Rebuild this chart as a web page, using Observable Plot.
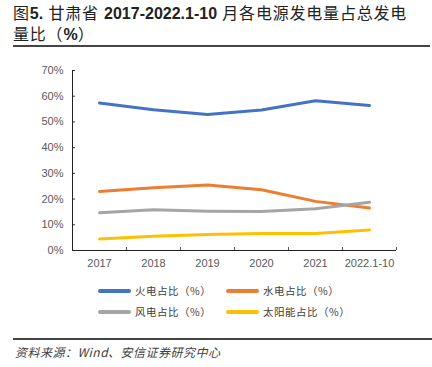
<!DOCTYPE html>
<html>
<head>
<meta charset="utf-8">
<script src="https://cdn.jsdelivr.net/npm/d3@7"></script>
<script src="https://cdn.jsdelivr.net/npm/@observablehq/plot@0.6"></script>
<style>
  html, body { margin: 0; padding: 0; background: #fff; }
  #wrap { position: relative; width: 432px; height: 367px; overflow: hidden; font-family: "Liberation Sans", "Noto Sans CJK SC", sans-serif; }
  #title { position: absolute; left: 13px; top: 3px; width: 420px; font-size: 16px; line-height: 21px; color: #222; font-weight: normal; letter-spacing: 0.8px; font-family: "Liberation Sans", "Noto Sans CJK SC", sans-serif; }
  #title b { font-weight: bold; letter-spacing: 0; }
  #rule1 { position: absolute; left: 13px; top: 45px; width: 417px; height: 2px; background: #444; }
  #chart { position: absolute; left: 0; top: 50px; }
  .leg { position: absolute; font-size: 10.5px; color: #404040; font-family: "Noto Sans CJK SC", sans-serif; letter-spacing: 0.5px; display: flex; align-items: center; }
  .sw { width: 33px; height: 4px; border-radius: 2px; margin-right: 4px; }
  #rule2 { position: absolute; left: 13px; top: 338px; width: 419px; height: 1.5px; background: #444; }
  #src { position: absolute; left: 15px; top: 343px; font-size: 12px; color: #404040; font-style: italic; font-family: "Noto Sans CJK SC", sans-serif; letter-spacing: 0.5px; }
</style>
</head>
<body>
<div id="wrap">
  <div id="title">图<b>5.</b> 甘肃省 <b>2017-2022.1-10</b> 月各电源发电量占总发电<br>量比（<b>%</b>）</div>
  <div id="rule1"></div>
  <div id="chart"></div>
  <div id="legend"></div>
  <div id="rule2"></div>
  <div id="src">资料来源：Wind、安信证券研究中心</div>
</div>
<script>
const categories = ["2017", "2018", "2019", "2020", "2021", "2022.1-10"];
const seriesNames = ["火电占比（%）", "水电占比（%）", "风电占比（%）", "太阳能占比（%）"];
const seriesColors = ["#4472C4", "#ED7D31", "#A5A5A5", "#FFC000"];
const thermal = [57.4, 54.7, 52.9, 54.6, 58.2, 56.4];
const hydro = [22.9, 24.4, 25.5, 23.6, 19.1, 16.5];
const wind = [14.7, 15.8, 15.3, 15.2, 16.2, 18.8];
const solar = [4.5, 5.5, 6.2, 6.6, 6.6, 8.0];
const yTicks = [0, 10, 20, 30, 40, 50, 60, 70];

const seriesValues = [thermal, hydro, wind, solar];
const rows = [];
seriesValues.forEach((vals, s) => vals.forEach((v, i) => rows.push({series: seriesNames[s], i, v})));
const idx = categories.map((d, i) => i);
const boundaries = categories.map((d, i) => i + 0.5);

const chart = Plot.plot({
  width: 432,
  height: 225,
  marginTop: 20,
  marginBottom: 25,
  marginLeft: 72,
  marginRight: 36,
  style: {fontFamily: "Liberation Sans, Arial, sans-serif", fontSize: "11px", color: "#595959"},
  x: {type: "linear", domain: [-0.5, categories.length - 0.5]},
  y: {domain: [0, 70]},
  color: {domain: seriesNames, range: seriesColors},
  marks: [
    Plot.axisY({ticks: yTicks, tickSize: 0, tickPadding: 9, tickFormat: d => d + "%", label: null, fill: "#595959"}),
    Plot.axisY({ticks: yTicks, tickSize: 3, dx: 3, tickFormat: () => "", label: null, stroke: "#333"}),
    Plot.axisX({ticks: idx, tickSize: 0, tickPadding: 9, tickFormat: i => categories[i], label: null, fill: "#595959"}),
    Plot.axisX({ticks: boundaries, tickSize: 3, dy: -3, tickFormat: () => "", label: null, stroke: "#555"}),
    Plot.ruleY([0], {stroke: "#222", strokeWidth: 1}),
    Plot.ruleX([-0.5], {stroke: "#222", strokeWidth: 1}),
    Plot.line(rows, {x: "i", y: "v", z: "series", stroke: "series", strokeWidth: 3, strokeLinejoin: "round", strokeLinecap: "round"})
  ]
});
document.getElementById("chart").appendChild(chart);

const legendPos = [[98, 283], [226, 283], [98, 304], [226, 304]];
const legend = document.getElementById("legend");
seriesNames.forEach((name, s) => {
  const el = document.createElement("div");
  el.className = "leg";
  el.style.left = legendPos[s][0] + "px";
  el.style.top = legendPos[s][1] + "px";
  el.innerHTML = `<span class="sw" style="background:${seriesColors[s]}"></span><span>${name}</span>`;
  legend.appendChild(el);
});
</script>
</body>
</html>
